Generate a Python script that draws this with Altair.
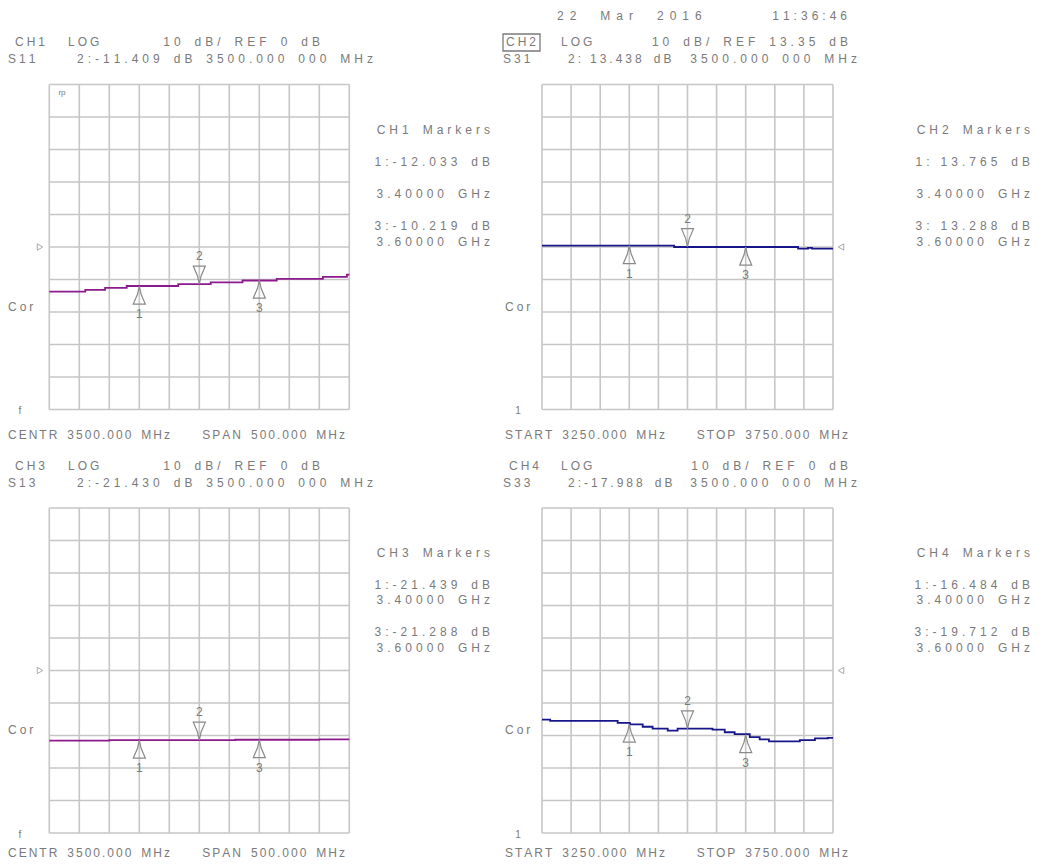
import altair as alt
import pandas as pd

# ---------------- data ----------------
freq_ticks = [3250, 3300, 3350, 3400, 3450, 3500, 3550, 3600, 3650, 3700, 3750]
div_offsets = [-50, -40, -30, -20, -10, 0, 10, 20, 30, 40, 50]

ch1_freq = [3250, 3310, 3343, 3379, 3465, 3519, 3572, 3629, 3706, 3746, 3750]
ch1_db = [-13.75, -13.2, -12.6, -12.0, -11.4, -10.9, -10.3, -9.8, -9.2, -8.5, -8.5]

ch2_freq = [3250, 3477, 3690, 3707, 3714, 3750]
ch2_db = [13.77, 13.35, 12.85, 13.1, 12.85, 12.85]

ch3_freq = [3250, 3350, 3560, 3700, 3750]
ch3_db = [-21.6, -21.45, -21.3, -21.2, -21.2]

ch4_freq = [3250, 3264, 3380, 3401, 3423, 3440, 3466, 3483, 3543, 3564, 3581,
            3607, 3624, 3640, 3693, 3719, 3741, 3750]
ch4_db = [-15.1, -15.5, -16.1, -16.6, -17.3, -17.9, -18.5, -17.9, -18.2, -19.0, -19.6,
          -20.5, -21.2, -21.8, -21.4, -20.9, -20.7, -20.7]

marker_ids = [1, 2, 3]
marker_freq = [3400, 3500, 3600]
ch1_markers = [-12.033, -11.409, -10.219]
ch2_markers = [13.765, 13.438, 13.288]
ch3_markers = [-21.439, -21.430, -21.288]
ch4_markers = [-16.484, -17.988, -19.712]

channels = ["CH1", "CH2", "CH3", "CH4"]
params = ["S11", "S31", "S13", "S33"]
ref_levels = [0, 13.35, 0, 0]
scale_per_div = 10
date_text = "22 Mar 2016"
time_text = "11:36:46"

# ---------------- style / layout ----------------
PAGE = 8
FONT = "Liberation Sans"
TXT = "#7a7a7a"
GRID = "#c6c6c6"
MK = "#8a8a8a"
PURPLE = "#8c1a8c"
NAVY = "#16168a"

G2 = "\u2006"   # ~2px at 12px
G3 = "\u2005"   # 3px
G4 = "\u2004"   # 4px
G6 = "\u2002"   # 6px
WIDE = "\u2002"
EM = "\u2003"

UP = "M0,0L-0.2,0.9L-0.67,2L0.67,2L0.2,0.9Z"
DOWN = "M0,0L-0.2,-0.9L-0.67,-2L0.67,-2L0.2,-0.9Z"

geom = [
    dict(x0=49.3, x1=349.3, y0=84.5, y1=409.5, left=True, top=True),
    dict(x0=542.0, x1=833.0, y0=84.5, y1=409.5, left=False, top=True),
    dict(x0=49.3, x1=349.3, y0=508.0, y1=833.0, left=True, top=False),
    dict(x0=542.0, x1=833.0, y0=508.0, y1=833.0, left=False, top=False),
]

one = pd.DataFrame({"k": [0]})


def spaced(s, gap, space=WIDE):
    return gap.join(space if c == " " else c for c in s)


def label(s, x, y, align="left", size=12, gap=G4, space=WIDE, spread=True):
    return alt.Chart(one).mark_text(
        text=spaced(s, gap, space) if spread else s, align=align, baseline="middle",
        font=FONT, fontSize=size, color=TXT
    ).encode(x=alt.value(x - PAGE), y=alt.value(y - PAGE))


def fmt(v):
    # positive readouts keep a narrow sign gap, as on the analyzer screen
    return f"{v:.3f}" if v < 0 else G3 + f"{v:.3f}"


def panel(i, freq, db, markers, color):
    g = geom[i]
    ref = ref_levels[i]
    xs = alt.Scale(domain=[freq_ticks[0], freq_ticks[-1]],
                   range=[g["x0"] - PAGE, g["x1"] - PAGE], nice=False, zero=False)
    ys = alt.Scale(domain=[ref + div_offsets[0], ref + div_offsets[-1]],
                   range=[g["y1"] - PAGE, g["y0"] - PAGE], nice=False, zero=False)
    L = []
    vdf = pd.DataFrame({"f": freq_ticks})
    L.append(alt.Chart(vdf).mark_rule(color=GRID, strokeWidth=1.6).encode(
        x=alt.X("f:Q", scale=xs, axis=None),
        y=alt.Y(datum=ref + div_offsets[0], scale=ys, axis=None),
        y2=alt.Y2(datum=ref + div_offsets[-1])))
    hdf = pd.DataFrame({"d": [ref + o for o in div_offsets]})
    L.append(alt.Chart(hdf).mark_rule(color=GRID, strokeWidth=1.6).encode(
        y=alt.Y("d:Q", scale=ys, axis=None),
        x=alt.X(datum=freq_ticks[0], scale=xs, axis=None),
        x2=alt.X2(datum=freq_ticks[-1])))
    tdf = pd.DataFrame({"f": freq, "d": db})
    L.append(alt.Chart(tdf).mark_line(interpolate="step-after", color=color, strokeWidth=1.8).encode(
        x=alt.X("f:Q", scale=xs, axis=None),
        y=alt.Y("d:Q", scale=ys, axis=None)))
    mdf = pd.DataFrame({"id": marker_ids, "f": marker_freq, "d": markers})
    enc = dict(x=alt.X("f:Q", scale=xs, axis=None), y=alt.Y("d:Q", scale=ys, axis=None))
    base = alt.Chart(mdf)
    L.append(base.transform_filter("datum.id != 2").mark_point(
        shape=UP, filled=False, color=MK, strokeWidth=1.2, size=324, opacity=1).encode(**enc))
    L.append(base.transform_filter("datum.id == 2").mark_point(
        shape=DOWN, filled=False, color=MK, strokeWidth=1.2, size=324, opacity=1).encode(**enc))
    L.append(base.transform_filter("datum.id != 2").mark_text(
        dy=28, font=FONT, fontSize=12, color=TXT, baseline="middle").encode(text="id:N", **enc))
    L.append(base.transform_filter("datum.id == 2").mark_text(
        dy=-28, font=FONT, fontSize=12, color=TXT, baseline="middle").encode(text="id:N", **enc))
    # reference position triangle
    L.append(alt.Chart(one).mark_point(
        shape="triangle-right" if g["left"] else "triangle-left", filled=False,
        color="#a8a8a8", strokeWidth=1, size=40, opacity=1).encode(
        x=alt.value((40 if g["left"] else 841) - PAGE),
        y=alt.Y(datum=ref, scale=ys, axis=None)))

    # header texts
    hy1 = 42 if g["top"] else 466
    hy2 = hy1 + 17
    if g["left"]:
        L.append(label(channels[i], 15, hy1, gap=G3))
        L.append(label("LOG", 68, hy1, gap=G3))
        L.append(label(f"{scale_per_div} dB/ REF {ref:g} dB", 320, hy1, align="right"))
        L.append(label(params[i], 8, hy2, gap=G3))
        L.append(label(f"2:{fmt(markers[1])} dB", 77, hy2))
        L.append(label(f"{marker_freq[1]:.3f} 000 MHz", 373, hy2, align="right"))
    else:
        L.append(label(channels[i], 506 if g["top"] else 509, hy1, gap=G3))
        L.append(label("LOG", 561, hy1, gap=G3))
        L.append(label(f"{scale_per_div} dB/ REF {ref:g} dB", 848, hy1, align="right"))
        L.append(label(params[i], 503, hy2, gap=G3))
        L.append(label(f"2:{fmt(markers[1])} dB", 568, hy2, gap=G3))
        L.append(label(f"{marker_freq[1]:.3f} 000 MHz", 857, hy2, align="right"))

    # footer texts
    fy = min(g["y1"] + 25.5, 853)
    center = (freq_ticks[0] + freq_ticks[-1]) / 2
    span = freq_ticks[-1] - freq_ticks[0]
    if g["left"]:
        L.append(label(f"CENTR {center:.3f} MHz", 8, fy, gap=G2))
        L.append(label(f"SPAN {span:.3f} MHz", 345, fy, align="right", gap=G2))
        L.append(label("Cor", 8, g["y0"] + 222, gap=G3))
        L.append(label("f", 20, g["y1"] + 1.5, align="center", size=10, spread=False))
    else:
        L.append(label(f"START {freq_ticks[0]:.3f} MHz", 505, fy, gap=G2))
        L.append(label(f"STOP {freq_ticks[-1]:.3f} MHz", 848, fy, align="right", gap=G2))
        L.append(label("Cor", 505, g["y0"] + 222, gap=G3))
        L.append(label("1", 518, g["y1"] + 1.5, align="center", size=10, spread=False))

    # marker table
    rx = 490 if g["left"] else 1030
    my = g["y0"]
    top = g["top"]
    L.append(label(f"{channels[i]} Markers", rx, my + 45, align="right"))
    L.append(label(f"1:{fmt(markers[0])} dB", rx, my + 77, align="right"))
    L.append(label(f"{marker_freq[0] / 1000:.5f} GHz", rx, my + (109 if top else 92), align="right"))
    L.append(label(f"3:{fmt(markers[2])} dB", rx, my + (141 if top else 124), align="right"))
    L.append(label(f"{marker_freq[2] / 1000:.5f} GHz", rx, my + (157 if top else 140), align="right"))
    return L


layers = []
layers += panel(0, ch1_freq, ch1_db, ch1_markers, PURPLE)
layers += panel(1, ch2_freq, ch2_db, ch2_markers, NAVY)
layers += panel(2, ch3_freq, ch3_db, ch3_markers, PURPLE)
layers += panel(3, ch4_freq, ch4_db, ch4_markers, NAVY)

# extra annotations
layers.append(label(date_text, 557, 16, gap=G6, space=EM))
layers.append(label(time_text, 847, 16, align="right"))
layers.append(alt.Chart(one).mark_rect(fillOpacity=0, stroke=TXT, strokeWidth=1.3).encode(
    x=alt.value(503 - PAGE), x2=alt.value(540 - PAGE), y=alt.value(34 - PAGE), y2=alt.value(51 - PAGE)))
layers.append(label("rp", 62, 93, align="center", size=8, spread=False))

chart = alt.layer(*layers).resolve_scale(x="independent", y="independent").properties(
    width=1023, height=851, padding=0, autosize=alt.AutoSizeParams(type="none")
).configure_view(stroke=None)

chart.save("out.html", embed_options={"renderer": "svg", "actions": False})
